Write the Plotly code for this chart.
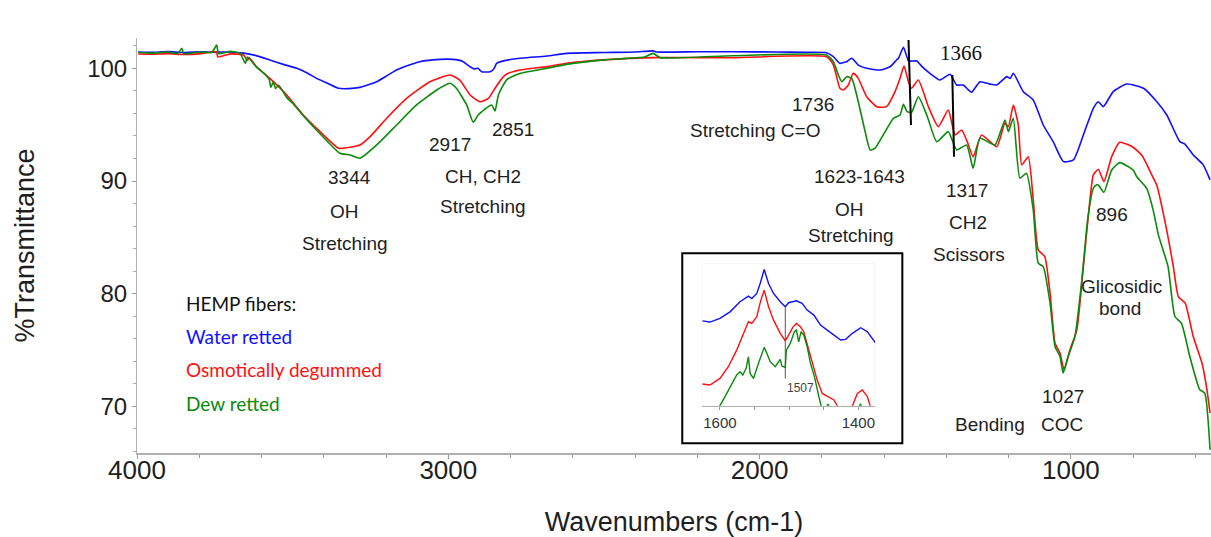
import plotly.graph_objects as go

# ---------------- main spectra (wavenumber cm-1, %T) ----------------
wn_water = [3996, 3950, 3900, 3850, 3800, 3750, 3700, 3658, 3620, 3573, 3530, 3487, 3455, 3423, 3390,
            3353, 3320, 3284, 3230, 3200, 3166, 3130, 3091, 3050, 3005, 2970, 2952, 2930, 2917, 2905,
            2893, 2866, 2855, 2850, 2845, 2791, 2684, 2620, 2500, 2400, 2342, 2330, 2200, 2085, 1950,
            1850, 1785, 1763, 1742, 1730, 1720, 1704, 1683, 1656, 1613, 1581, 1560, 1554, 1538, 1527,
            1522, 1495, 1480, 1453, 1421, 1388, 1367, 1346, 1330, 1319, 1292, 1260, 1238, 1206, 1195,
            1185, 1153, 1121, 1089, 1057, 1024, 992, 960, 928, 912, 896, 864, 821, 767, 724,
            692, 650, 635, 620, 607, 575, 553]
t_water = [101.45, 101.42, 101.48, 101.40, 101.47, 101.44, 101.45, 101.35, 101.15, 100.74, 100.35, 100.0, 99.6, 99.11, 98.7,
           98.23, 98.2, 98.31, 98.81, 99.3, 99.85, 100.25, 100.59, 100.75, 100.82, 100.75, 100.59, 100.14, 99.95, 100.0,
           99.7, 99.7, 99.9, 100.14, 100.44, 100.82, 101.09, 101.33, 101.40, 101.45, 101.55, 101.45, 101.47, 101.47, 101.45,
           101.42, 101.38, 101.03, 100.44, 100.52, 100.59, 100.89, 100.29, 100.0, 99.85, 100.14, 100.74, 100.89, 101.87, 101.03,
           100.65, 100.65, 100.2, 99.56, 98.96, 99.47, 98.52, 98.52, 98.1, 97.87, 98.81, 98.6, 98.52, 99.26, 99.1,
           99.56, 97.93, 97.19, 94.97, 93.49, 91.72, 91.87, 94.09, 96.45, 97.04, 96.6, 97.93, 98.61, 98.23, 97.04,
           95.86, 93.49, 93.3, 92.8, 92.31, 91.43, 90.1]

wn_osmotic = [3996, 3950, 3900, 3850, 3800, 3745, 3740, 3700, 3658, 3645, 3640, 3616, 3573, 3519, 3466,
              3412, 3353, 3326, 3284, 3251, 3198, 3134, 3059, 2995, 2963, 2930, 2898, 2871, 2850, 2823,
              2812, 2770, 2684, 2620, 2500, 2342, 2085, 1785, 1763, 1742, 1731, 1715, 1699, 1683, 1656,
              1624, 1592, 1565, 1549, 1536, 1522, 1512, 1490, 1458, 1426, 1394, 1372, 1351, 1333, 1314,
              1287, 1238, 1212, 1201, 1185, 1169, 1158, 1137, 1121, 1105, 1084, 1067, 1051, 1035, 1022,
              1003, 981, 960, 939, 928, 912, 894, 869, 843, 800, 770, 736, 724, 692, 671,
              655, 633, 607, 579, 563, 553]
t_osmotic = [101.27, 101.25, 101.3, 101.22, 101.28, 101.45, 101.0, 101.28, 101.18, 100.7, 100.95, 100.14, 99.11, 97.63, 95.86,
             94.38, 92.91, 92.96, 93.2, 93.94, 95.57, 97.34, 98.81, 99.41, 98.96, 97.63, 97.04, 97.34, 98.23, 99.26,
             99.5, 99.85, 100.15, 100.45, 100.75, 100.95, 100.94, 101.03, 100.29, 98.23, 98.08, 98.52, 99.56, 99.11, 97.48,
             96.6, 96.6, 97.93, 99.11, 100.2, 98.81, 98.23, 98.96, 96.6, 94.82, 96.3, 94.09, 94.53, 93.49, 92.16,
             94.09, 93.05, 95.12, 94.82, 96.75, 94.97, 91.43, 92.16, 88.32, 83.89, 83.3, 80.05, 75.62, 74.73, 73.25,
             75.03, 76.8, 82.41, 88.32, 90.54, 91.05, 89.95, 92.16, 93.44, 93.0, 92.2, 90.3, 89.6, 85.6, 82.41,
             79.75, 79.17, 76.2, 73.85, 71.48, 69.42]

wn_dew = [3996, 3950, 3900, 3870, 3856, 3850, 3800, 3760, 3744, 3738, 3700, 3669, 3652, 3645, 3616,
          3590, 3575, 3570, 3562, 3555, 3545, 3519, 3500, 3466, 3412, 3348, 3316, 3284, 3230, 3166,
          3102, 3037, 2995, 2974, 2941, 2920, 2904, 2861, 2850, 2839, 2812, 2770, 2684, 2620, 2500,
          2370, 2342, 2320, 2085, 1785, 1763, 1747, 1736, 1720, 1704, 1683, 1661, 1645, 1629, 1603,
          1570, 1549, 1538, 1526, 1512, 1490, 1463, 1431, 1394, 1367, 1335, 1314, 1292, 1244, 1212,
          1201, 1185, 1164, 1143, 1121, 1105, 1089, 1067, 1051, 1035, 1025, 1009, 987, 966, 945,
          928, 918, 912, 894, 869, 843, 800, 789, 757, 736, 719, 688, 666, 645, 618,
          586, 570, 553]
t_dew = [101.4, 101.35, 101.45, 101.3, 101.77, 101.3, 101.45, 101.4, 102.07, 101.3, 101.5, 101.33, 100.44, 101.0, 100.1,
         99.5, 99.0, 98.3, 98.81, 98.2, 98.5, 97.4, 96.9, 95.8, 94.2, 92.46, 92.31, 92.02, 93.2, 94.97,
         96.75, 98.08, 98.67, 98.23, 96.75, 95.21, 95.86, 96.75, 96.21, 97.63, 99.0, 99.55, 100.0, 100.35, 100.75,
         101.0, 101.33, 100.95, 101.12, 101.18, 100.59, 99.41, 98.81, 99.26, 99.11, 97.04, 94.38, 92.76, 92.91, 94.09,
         95.57, 95.86, 96.8, 96.15, 96.1, 97.48, 95.86, 93.49, 94.38, 92.76, 93.2, 91.13, 93.79, 93.2, 95.42,
         94.38, 95.57, 90.25, 90.69, 87.44, 82.71, 82.41, 79.17, 75.32, 74.43, 72.96, 74.43, 76.2, 80.94, 86.84,
         89.36, 89.65, 89.65, 89.0, 90.98, 91.63, 90.98, 90.4, 89.36, 87.44, 85.22, 82.41, 77.98, 77.39, 74.43,
         71.48, 71.19, 66.16]

# ---------------- inset (1625-1375 cm-1, relative scale) ----------------
wn_in_water = [1625.6, 1614.5, 1600, 1585.5, 1571, 1558.9, 1554, 1546.8, 1541.9, 1536.1, 1529.8, 1522.6, 1512.9, 1505.6,
               1500.8, 1489.5, 1481.3, 1474, 1464.3, 1454.7, 1445, 1432.9, 1425.6, 1418.4, 1408.7, 1396.6, 1386.9, 1374.8]
v_in_water = [62.3, 61.4, 64.1, 68.9, 76.3, 80.4, 78.7, 82.4, 89.7, 100, 89.7, 82.4, 76.3, 72.6,
              75.6, 77.0, 75.1, 70.2, 66.5, 59.2, 55.5, 50.6, 48.2, 48.7, 53.1, 57.2, 54.3, 45.7]

wn_in_osmotic = [1625.6, 1614.5, 1600, 1587.9, 1575.8, 1563.7, 1558.9, 1554, 1546.8, 1540.9, 1536.1, 1529.8, 1522.6, 1512.9,
                 1505.6, 1500.8, 1494.4, 1489.5, 1483.7, 1478.9, 1474, 1466.8, 1459.5, 1452.2, 1442.6, 1435.3, 1430.5, 1425,
                 1415, 1408.7, 1401.4, 1394.2, 1386.9, 1383, 1379]
v_in_osmotic = [15.9, 15.2, 20.0, 28.6, 40.8, 55.5, 61.6, 60.4, 65.3, 77.5, 84.8, 72.6, 62.8, 53.1,
                47.7, 51.8, 57.9, 60.4, 57.9, 54.3, 45.7, 33.5, 18.8, 9.0, 6.6, 4.2, 0.0, -8,
                -8, 0.0, 9.0, 11.5, 6.6, 0.0, -5.6]

wn_in_dew = [1605, 1600, 1592.7, 1583, 1575.8, 1571, 1567, 1562.2, 1558.9, 1556.4, 1551.6, 1544.3, 1539.5, 1536.1,
             1532.2, 1527.4, 1520.1, 1512.9, 1510.5, 1505.6, 1504.1, 1498.4, 1492.5, 1489.5, 1486.3, 1482.8, 1478.9, 1474,
             1469.2, 1463.5, 1457.1, 1453.8, 1451, 1447, 1444, 1440, 1400, 1397, 1394]
v_in_dew = [-5.6, 0.0, 6.6, 16.4, 22.5, 24.9, 22.5, 27.4, 35.9, 23.7, 20.0, 31.1, 38.4, 42.8,
            38.4, 32.3, 28.6, 34.0, 29.1, 28.1, 40.8, 45.7, 54.3, 55.5, 46.9, 54.3, 51.8, 43.3,
            31.1, 21.3, 6.6, 0.0, -5.6, -3, 1.2, -3, -3, 1.5, -3]

series_names = ["Water retted", "Osmotically degummed", "Dew retted"]
series_colors = ["#1010ff", "#ff1010", "#0a8a0a"]

x_ticks = [4000, 3000, 2000, 1000]
y_ticks = [70, 80, 90, 100]
inset_ticks = [1600, 1400]

# band annotations: (text, wavenumber, %T)
band_labels = ["3344", "OH", "Stretching", "2917", "CH, CH2", "Stretching", "2851",
               "1736", "Stretching C=O", "1623-1643", "OH", "Stretching",
               "1317", "CH2", "Scissors", "896", "Glicosidic", "bond", "1027", "COC", "Bending"]
band_x = [3319, 3332, 3332, 2995, 2889, 2889, 2792,
          1829, 2015, 1680, 1710, 1706,
          1334, 1331, 1327, 868, 836, 842, 1024, 1030, 1260]
band_y = [90.27, 87.26, 84.42, 93.2, 90.36, 87.7, 94.53,
          96.75, 94.47, 90.39, 87.44, 85.16,
          89.17, 86.29, 83.51, 87.0, 80.66, 78.72, 70.89, 68.38, 68.38]

serif_labels = ["1428", "1366"]
serif_x = [1513.7, 1353]
serif_y = [104.13, 101.33]
# marker lines for 1428 / 1366: (x_top, y_top, x_bottom, y_bottom)
mark_lines = [(1521.7, 102.51, 1513.7, 94.97), (1381, 99.41, 1375.5, 92.16)]

legend_title = "HEMP fibers:"
legend_x = 3849
legend_y = [79.17, 76.21, 73.25, 70.24]

fig = go.Figure()
main_sets = [(wn_water, t_water), (wn_osmotic, t_osmotic), (wn_dew, t_dew)]
for (wx, wy), nm, col in zip(main_sets, series_names, series_colors):
    fig.add_trace(go.Scatter(x=wx, y=wy, mode="lines", name=nm, showlegend=False,
                             line=dict(color=col, width=1.6, shape="spline", smoothing=0.5),
                             xaxis="x", yaxis="y"))
inset_sets = [(wn_in_water, v_in_water), (wn_in_osmotic, v_in_osmotic), (wn_in_dew, v_in_dew)]
for (wx, wy), nm, col in zip(inset_sets, series_names, series_colors):
    fig.add_trace(go.Scatter(x=wx, y=wy, mode="lines", name=nm + " (inset)", showlegend=False,
                             line=dict(color=col, width=1.4), xaxis="x2", yaxis="y2"))

txt = "#1e1e1e"
annotations = []
for t, x, y in zip(band_labels, band_x, band_y):
    annotations.append(dict(text=t, x=x, y=y, xref="x", yref="y", showarrow=False,
                            font=dict(family="Liberation Sans, Arial", size=19, color=txt)))
for t, x, y in zip(serif_labels, serif_x, serif_y):
    annotations.append(dict(text=t, x=x, y=y, xref="x", yref="y", showarrow=False,
                            font=dict(family="Liberation Serif, Times New Roman", size=21, color="#111")))
legend_texts = [legend_title] + series_names
legend_cols = ["#111111"] + series_colors
for t, y, c in zip(legend_texts, legend_y, legend_cols):
    annotations.append(dict(text=t, x=legend_x, y=y, xref="x", yref="y", xanchor="left", showarrow=False,
                            font=dict(family="Lato, Open Sans", size=19, color=c)))
annotations.append(dict(text="1507", x=1483.4, y=13.2, xref="x2", yref="y2", showarrow=False,
                        font=dict(family="Liberation Sans, Arial", size=12, color="#444")))

shapes = []
for (x0, y0, x1, y1) in mark_lines:
    shapes.append(dict(type="line", xref="x", yref="y", x0=x0, y0=y0, x1=x1, y1=y1,
                       line=dict(color="black", width=2)))
shapes.append(dict(type="line", xref="x2", yref="y2", x0=1505.6, y0=72.6, x1=1505.6, y1=20.0,
                   line=dict(color="#555", width=1)))
shapes.append(dict(type="rect", xref="paper", yref="paper", x0=0.5077, x1=0.7126, y0=0.0234, y1=0.4812,
                   line=dict(color="black", width=2), layer="below"))
shapes.append(dict(type="rect", xref="paper", yref="paper", x0=0.5263, x1=0.6872, y0=0.114, y1=0.4554,
                   line=dict(color="#eeeeee", width=1), layer="below"))

fig.update_layout(
    width=1211, height=537,
    margin=dict(l=137, r=0, t=38, b=84),
    paper_bgcolor="white", plot_bgcolor="white",
    showlegend=False,
    font=dict(family="Liberation Sans, Arial", color=txt),
    xaxis=dict(domain=[0, 1], range=[4000, 550], tickvals=x_ticks, ticks="outside", ticklen=4,
               tickcolor="#999", showline=True, linecolor="#b0b0b0", linewidth=1.5, showgrid=False,
               zeroline=False, tickfont=dict(size=26, color=txt), ticklabelstandoff=-11,
               minor=dict(dtick=200, ticks="outside", ticklen=3, tickcolor="#999"),
               title=dict(text="Wavenumbers (cm-1)", font=dict(size=27, color=txt), standoff=32)),
    yaxis=dict(domain=[0, 1], range=[65.87, 102.69], tickvals=y_ticks, ticks="outside", ticklen=4,
               tickcolor="#999", showline=True, linecolor="#b0b0b0", linewidth=1, showgrid=False,
               zeroline=False, tickfont=dict(size=24, color=txt),
               minor=dict(dtick=2, ticks="outside", ticklen=3, tickcolor="#aaa"),
               title=dict(text="%Transmittance", font=dict(size=27, color=txt), standoff=44)),
    xaxis2=dict(domain=[0.5263, 0.6872], anchor="y2", range=[1625.6, 1375.9], tickvals=inset_ticks,
                ticks="outside", ticklen=3, tickcolor="#999", showline=True, linecolor="#b0b0b0",
                linewidth=1, showgrid=False, zeroline=False, tickfont=dict(size=15, color="#333"),
                minor=dict(dtick=50, ticks="outside", ticklen=3, tickcolor="#999")),
    yaxis2=dict(domain=[0.114, 0.4554], anchor="x2", range=[0, 104], visible=False),
    annotations=annotations,
    shapes=shapes,
)

fig.write_html("out.html")
